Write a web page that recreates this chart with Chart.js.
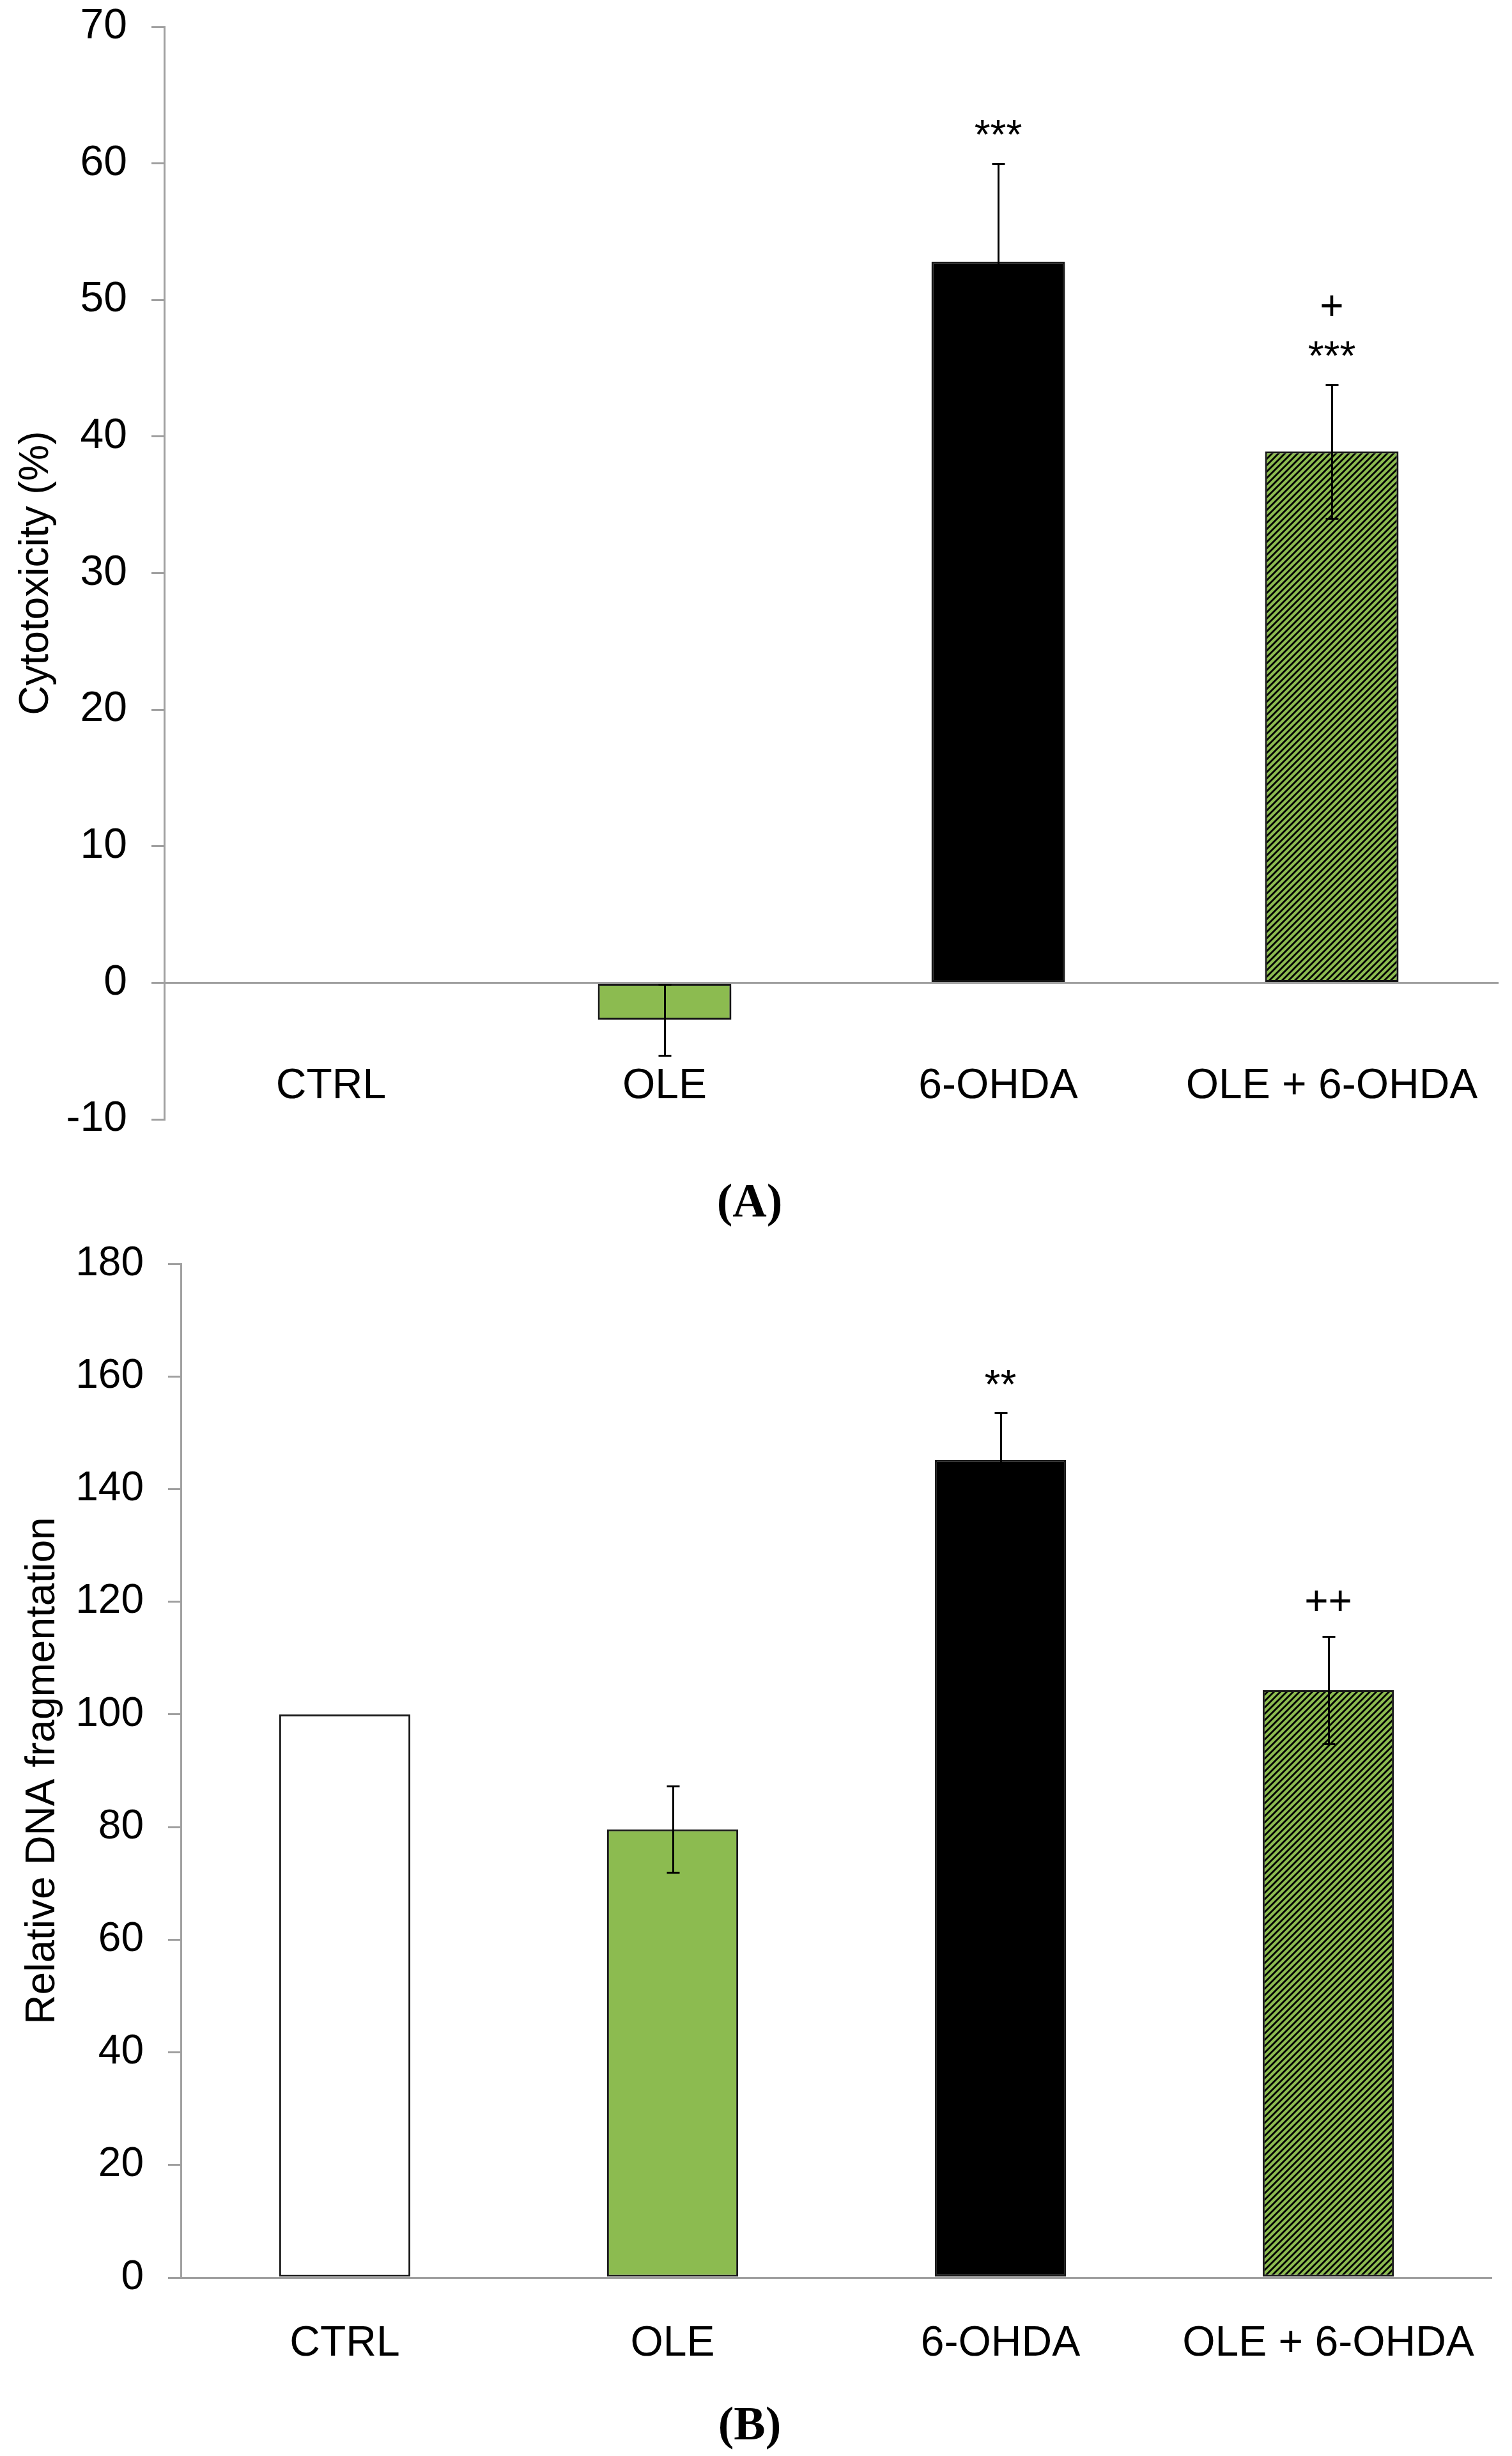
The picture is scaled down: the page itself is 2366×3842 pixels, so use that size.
<!DOCTYPE html>
<html>
<head>
<meta charset="utf-8">
<script src="https://cdn.jsdelivr.net/npm/chart.js@4.4.1/dist/chart.umd.min.js"></script>
<style>
  html, body { margin: 0; padding: 0; background: #fff; }
  body { width: 2366px; height: 3842px; position: relative; overflow: hidden; }
  canvas { position: absolute; left: 0; }
  #chartA { top: 0; }
  #chartB { top: 1830px; }
  .panel {
    position: absolute; width: 400px; text-align: center;
    font: bold 74px "Liberation Serif", "Times New Roman", serif;
    line-height: 74px; color: #000;
  }
  #panelA { left: 973px; top: 1841px; }
  #panelB { left: 973px; top: 3754px; }
</style>
</head>
<body>
<canvas id="chartA" width="2366" height="1800"></canvas>
<canvas id="chartB" width="2366" height="2012"></canvas>
<div class="panel" id="panelA">(A)</div>
<div class="panel" id="panelB">(B)</div>

<script>
// ---------------------------
// Data
// ---------------------------
const categories = ['CTRL', 'OLE', '6-OHDA', 'OLE + 6-OHDA'];

// (A) cytotoxicity
const cytotoxicity = [0, -2.7, 52.8, 38.9];
const cytotoxicityErr = [0, 2.6, 7.2, 4.9];
const cytotoxicityMarks = [[], [], ['***'], ['+', '***']];
const cytotoxicityTicks = [-10, 0, 10, 20, 30, 40, 50, 60, 70];

// (B) DNA fragmentation
const dnaFragmentation = [100, 79.6, 145.2, 104.3];
const dnaFragmentationErr = [0, 7.7, 8.3, 9.5];
const dnaFragmentationMarks = [[], [], ['**'], ['++']];
const dnaFragmentationTicks = [0, 20, 40, 60, 80, 100, 120, 140, 160, 180];

// ---------------------------
// Styles
// ---------------------------
const SANS = '"Liberation Sans", Arial, Helvetica, sans-serif';
const GREEN = '#8cbb50';
const AXIS_GREY = '#a0a0a0';
const EDGE = '#1a1a1a';

// diagonal "/" stripes, black on green
function hatchPattern(fill, line) {
  const s = 10;
  const c = document.createElement('canvas');
  c.width = s; c.height = s;
  const g = c.getContext('2d');
  g.fillStyle = fill;
  g.fillRect(0, 0, s, s);
  g.strokeStyle = line;
  g.lineWidth = 2.9;
  g.beginPath();
  g.moveTo(-1, 1); g.lineTo(1, -1);
  g.moveTo(-1, s + 1); g.lineTo(s + 1, -1);
  g.moveTo(s - 1, s + 1); g.lineTo(s + 1, s - 1);
  g.stroke();
  return g.createPattern(c, 'repeat');
}

const barFills = ['#ffffff', GREEN, '#000000', hatchPattern(GREEN, '#000000')];

// ---------------------------
// Plugins
// ---------------------------
const shadowPlugin = {
  id: 'barShadow',
  beforeDatasetsDraw(chart, args, opts) {
    if (!opts.enabled) return;
    const ctx = chart.ctx;
    ctx.save();
    ctx.shadowColor = 'rgba(0,0,0,0.35)';
    ctx.shadowBlur = 10;
    ctx.shadowOffsetX = 2;
    ctx.shadowOffsetY = 5;
  },
  afterDatasetsDraw(chart, args, opts) {
    if (!opts.enabled) return;
    chart.ctx.restore();
  }
};

const decorPlugin = {
  id: 'decor',
  afterDatasetsDraw(chart, args, opts) {
    const { ctx, scales: { x, y } } = chart;
    const values = chart.data.datasets[0].data;
    ctx.save();
    ctx.shadowColor = 'rgba(0,0,0,0)';
    // error bars
    ctx.strokeStyle = '#000';
    ctx.lineWidth = 3;
    values.forEach((v, i) => {
      const e = opts.errors[i];
      if (!e) return;
      const px = Math.round(x.getPixelForValue(i)) + 0.5;
      const top = Math.round(y.getPixelForValue(v + e)) + 0.5;
      const bot = Math.round(y.getPixelForValue(v - e)) + 0.5;
      ctx.beginPath();
      ctx.moveTo(px, top); ctx.lineTo(px, bot);
      ctx.moveTo(px - 10, top); ctx.lineTo(px + 10, top);
      ctx.moveTo(px - 10, bot); ctx.lineTo(px + 10, bot);
      ctx.stroke();
    });
    // significance marks, placed by their visual centre above the error bar
    ctx.fillStyle = '#000';
    ctx.font = '64px ' + SANS;
    ctx.textAlign = 'center';
    ctx.textBaseline = 'alphabetic';
    values.forEach((v, i) => {
      const lines = opts.marks[i];
      if (!lines.length) return;
      const px = x.getPixelForValue(i);
      const top = y.getPixelForValue(v + Math.max(opts.errors[i], 0));
      lines.slice().reverse().forEach((t, k) => {
        const m = ctx.measureText(t);
        const centre = top - 56 - k * 68;
        ctx.fillText(t, px, centre + (m.actualBoundingBoxAscent - m.actualBoundingBoxDescent) / 2);
      });
    });
    // category labels next to the zero line
    ctx.font = opts.labelSize + 'px ' + SANS;
    ctx.textBaseline = 'middle';
    const zero = y.getPixelForValue(0);
    categories.forEach((c, i) => {
      ctx.fillText(c, x.getPixelForValue(i), zero + opts.labelOffset);
    });
    ctx.restore();
  }
};

// ---------------------------
// Chart builder
// ---------------------------
function buildChart(id, values, errors, marks, ticks, title, cfg) {
  const tickMin = ticks[0], tickMax = ticks[ticks.length - 1];
  return new Chart(document.getElementById(id), {
    type: 'bar',
    data: {
      labels: categories,
      datasets: [{
        data: values,
        backgroundColor: barFills,
        borderColor: EDGE,
        borderWidth: 3,
        borderSkipped: false,
        categoryPercentage: 1,
        barPercentage: 0.4
      }]
    },
    options: {
      responsive: false,
      animation: false,
      devicePixelRatio: 1,
      layout: { padding: { top: cfg.padTop, bottom: cfg.padBottom, left: 0, right: cfg.padRight } },
      scales: {
        x: { display: false, offset: true },
        y: {
          min: tickMin,
          max: tickMax,
          afterFit: s => {
            s.width = cfg.axisX;
            s.paddingTop = 0;
            s.paddingBottom = 0;
          },
          afterBuildTicks: s => { s.ticks = ticks.map(v => ({ value: v })); },
          ticks: {
            color: '#000',
            padding: 38,
            font: { family: SANS, size: cfg.tickSize }
          },
          grid: {
            drawTicks: true,
            tickLength: 20,
            lineWidth: 3,
            color: c => (c.tick && c.tick.value === 0 ? AXIS_GREY : 'rgba(0,0,0,0)'),
            tickColor: AXIS_GREY,
            tickWidth: 3
          },
          border: { display: true, color: AXIS_GREY, width: 3 },
          title: {
            display: true,
            text: title,
            color: '#000',
            padding: { top: cfg.titlePad, bottom: 0 },
            font: { family: SANS, size: 64 }
          }
        }
      },
      plugins: {
        legend: { display: false },
        tooltip: { enabled: false },
        barShadow: { enabled: cfg.shadow },
        decor: { errors: errors, marks: marks, labelOffset: cfg.labelOffset, labelSize: 66 }
      }
    },
    plugins: [shadowPlugin, decorPlugin]
  });
}

buildChart('chartA', cytotoxicity, cytotoxicityErr, cytotoxicityMarks, cytotoxicityTicks,
  'Cytotoxicity (%)',
  { padTop: 42, padBottom: 49, padRight: 21, axisX: 257, tickSize: 66, titlePad: 19, labelOffset: 162, shadow: true });

buildChart('chartB', dnaFragmentation, dnaFragmentationErr, dnaFragmentationMarks, dnaFragmentationTicks,
  'Relative DNA fragmentation',
  { padTop: 147, padBottom: 279, padRight: 31, axisX: 283, tickSize: 64, titlePad: 29, labelOffset: 104, shadow: false });
</script>
</body>
</html>
